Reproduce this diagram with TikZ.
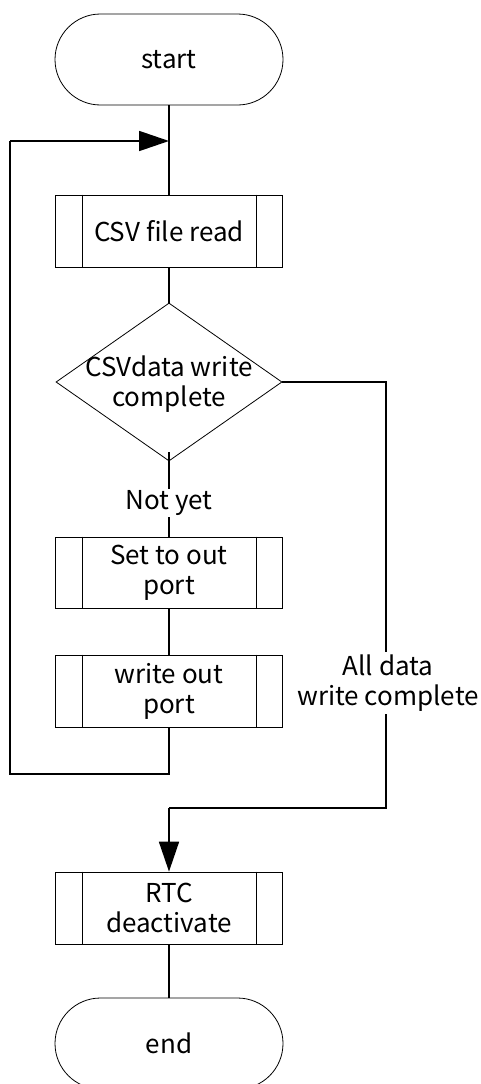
\documentclass[tikz,border=0pt]{standalone}
\usepackage{fontspec}
\setmainfont{Noto Sans CJK JP}
\usetikzlibrary{arrows.meta,shapes.geometric,shapes.misc}
\begin{document}
\begin{tikzpicture}[x=1pt,y=-1pt,
  every node/.style={font=\fontsize{26}{30}\selectfont, align=center},
  terminal/.style={rounded rectangle, draw, line width=0.8pt, minimum width=228pt, minimum height=91pt, inner sep=0pt},
  procbox/.style={rectangle, draw, line width=0.8pt, minimum width=227pt, minimum height=72pt, inner sep=0pt},
  decision/.style={diamond, draw, line width=0.8pt, minimum width=226pt, minimum height=158pt, inner sep=0pt},
  conn/.style={line width=1.8pt},
  arr/.style={conn, -{Triangle[length=30pt,width=20pt]}},
  lbl/.style={fill=white, inner sep=3pt}
]
\useasboundingbox (0,0) rectangle (480,1084);

\node[terminal] (start) at (169,59.5) {start};
\node[procbox] (csv) at (169,231) {};
\node (csvt) at (169,231) {CSV file read};
\node[decision] (dia) at (169,382) {};
\node (diat) at (169,384) {CSVdata write\\complete};
\node[procbox, minimum height=71pt] (set) at (169,572.5) {};
\node (sett) at (169,572.5) {Set to out\\port};
\node[procbox] (wr) at (169,691) {};
\node (wrt) at (169,691) {write out\\port};
\node[procbox] (rtc) at (169,908) {};
\node (rtct) at (169,908) {RTC\\deactivate};
\node[terminal] (end) at (169,1043.5) {end};

% inner lines of predefined process boxes
\foreach \b in {csv,set,wr,rtc}{
  \draw[line width=0.8pt] ([xshift=27pt]\b.north west) -- ([xshift=27pt]\b.south west);
  \draw[line width=0.8pt] ([xshift=-27pt]\b.north east) -- ([xshift=-27pt]\b.south east);
}

\coordinate (merge) at (169,141);
\coordinate (loopA) at (169,774);
\coordinate (loopB) at (10,774);
\coordinate (loopC) at (10,141);
\coordinate (yesA) at (386,382);
\coordinate (yesB) at (386,808);
\coordinate (yesC) at (169,808);

\draw[conn] (start.south) -- (csv.north);
\draw[conn] (csv.south) -- (dia.north);
\node (ny) at (169,503) {Not yet};
\draw[conn] ([yshift=9pt]dia.south) -- ([yshift=-2pt]ny.north);
\draw[conn] ([yshift=2pt]ny.south) -- (set.north);
\draw[conn] (set.south) -- (wr.north);
\draw[conn] (wr.south) -- (loopA) -- (loopB) -- (loopC);
\draw[arr] (loopC) -- (merge);

\draw[conn] (dia.east) -- (yesA) -- (yesB) -- (yesC);
\draw[arr] (yesC) -- (rtc.north);
\node[lbl] (all) at (388,683) {All data\\write complete};

\draw[conn] (rtc.south) -- (end.north);
\end{tikzpicture}
\end{document}
